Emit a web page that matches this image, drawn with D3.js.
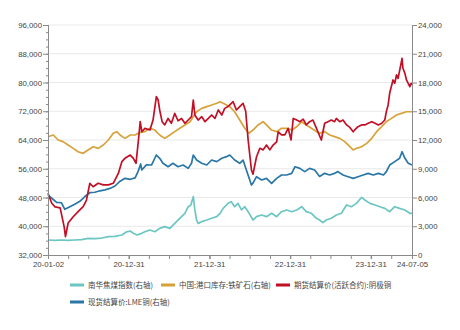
<!DOCTYPE html>
<html>
<head>
<meta charset="utf-8">
<script src="https://cdn.jsdelivr.net/npm/d3@7"></script>
<style>
  body { margin: 0; background: #fff; }
  svg { display: block; font-family: "Noto Sans CJK SC", "Noto Sans", sans-serif; }
  .tick text { fill: #444; font-size: 7.8px; }
  .grid line { stroke: #e9e9e9; }
</style>
</head>
<body>
<svg width="460" height="330"></svg>
<script>
// [date, value] pairs
const coalIndex = [ // 南华焦煤指数 (right axis)
  ["2020-01-02",1565],["2020-02-03",1530],["2020-03-03",1565],["2020-04-02",1530],["2020-05-02",1565],
  ["2020-06-02",1600],["2020-07-01",1740],["2020-08-01",1700],["2020-09-01",1770],["2020-10-01",1910],
  ["2020-10-31",1950],["2020-12-01",2090],["2020-12-23",2430],["2021-01-08",2500],["2021-01-22",2260],
  ["2021-02-07",2090],["2021-02-22",2200],["2021-03-15",2430],["2021-04-07",2610],["2021-04-29",2430],
  ["2021-05-21",2780],["2021-06-13",2960],["2021-07-06",2780],["2021-07-28",3300],["2021-08-20",3830],
  ["2021-09-12",4350],["2021-09-27",5040],["2021-10-09",5220],["2021-10-20",6090],["2021-10-27",4700],
  ["2021-11-04",3650],["2021-11-11",3300],["2021-11-27",3480],["2021-12-20",3650],["2022-01-11",3830],
  ["2022-02-03",4000],["2022-02-18",4350],["2022-03-04",4870],["2022-03-19",5220],["2022-03-26",5390],
  ["2022-04-10",5560],["2022-04-25",5040],["2022-05-10",5390],["2022-05-26",4700],["2022-06-10",5040],
  ["2022-06-25",4520],["2022-07-17",3650],["2022-08-02",4000],["2022-08-25",4170],["2022-09-16",4000],
  ["2022-10-09",4350],["2022-11-01",4000],["2022-11-23",4520],["2022-12-16",4700],["2023-01-08",4520],
  ["2023-01-31",4700],["2023-02-22",5040],["2023-03-15",4520],["2023-04-07",4350],["2023-04-30",3830],
  ["2023-05-14",3650],["2023-05-29",3370],["2023-06-13",3650],["2023-07-06",3830],["2023-07-29",4170],
  ["2023-08-21",4350],["2023-09-13",5220],["2023-10-05",5040],["2023-10-28",5390],["2023-11-20",6020],
  ["2023-12-05",5740],["2023-12-28",5390],["2024-01-20",5220],["2024-02-11",5040],["2024-03-04",4870],
  ["2024-03-26",4520],["2024-04-18",5040],["2024-05-10",4870],["2024-06-03",4700],["2024-06-25",4350],
  ["2024-07-05",4350]
];

const ironOreStock = [ // 中国:港口库存:铁矿石 (right axis)
  ["2020-01-02",12345],["2020-01-26",12520],["2020-02-17",12000],["2020-03-10",11830],["2020-04-02",11480],
  ["2020-04-25",11130],["2020-05-17",10780],["2020-06-09",10610],["2020-07-01",10960],["2020-07-24",11300],
  ["2020-08-16",11130],["2020-09-08",11480],["2020-10-01",12000],["2020-10-23",12700],["2020-11-08",12870],
  ["2020-11-23",12520],["2020-12-15",12170],["2021-01-08",12520],["2021-01-30",12520],["2021-02-22",12800],
  ["2021-03-15",12870],["2021-04-07",13220],["2021-04-29",13040],["2021-05-21",12520],["2021-06-13",12170],
  ["2021-07-06",12520],["2021-07-28",12870],["2021-08-20",13220],["2021-09-12",13570],["2021-10-05",13910],
  ["2021-10-20",14430],["2021-11-04",14950],["2021-11-27",15300],["2021-12-20",15480],["2022-01-11",15650],
  ["2022-02-03",15830],["2022-02-18",16000],["2022-03-11",15750],["2022-04-03",15480],["2022-04-25",14950],
  ["2022-05-18",14090],["2022-06-10",13220],["2022-06-28",12700],["2022-07-17",13040],["2022-08-09",13570],
  ["2022-09-01",13910],["2022-09-16",13570],["2022-10-09",13040],["2022-11-01",12870],["2022-11-23",13220],
  ["2022-12-16",13220],["2023-01-08",13040],["2023-01-31",13390],["2023-02-22",13910],["2023-03-15",13570],
  ["2023-04-07",13220],["2023-04-30",12870],["2023-05-14",12700],["2023-06-06",12870],["2023-06-29",12520],
  ["2023-07-21",12350],["2023-08-13",12170],["2023-09-05",11830],["2023-09-28",11300],["2023-10-13",10960],
  ["2023-10-28",11130],["2023-11-20",11300],["2023-12-13",11650],["2024-01-05",12170],["2024-01-27",12870],
  ["2024-02-19",13390],["2024-03-11",13910],["2024-04-03",14260],["2024-04-26",14610],["2024-05-18",14780],
  ["2024-06-10",14950],["2024-07-05",14950]
];

const copperFutures = [ // 期货结算价(活跃合约):阴极铜 (left axis)
  ["2020-01-02",49170],["2020-01-19",46400],["2020-02-03",45400],["2020-02-26",45100],["2020-03-15",39900],
  ["2020-03-21",37100],["2020-04-02",40900],["2020-04-25",42650],["2020-05-17",44050],["2020-06-09",45450],
  ["2020-06-24",47300],["2020-07-09",51950],["2020-07-24",51000],["2020-08-16",51950],["2020-09-08",51500],
  ["2020-10-01",51500],["2020-10-23",51950],["2020-11-15",54700],["2020-12-01",57970],["2020-12-15",58900],
  ["2021-01-08",59800],["2021-01-22",58900],["2021-02-03",57500],["2021-02-14",64000],["2021-02-22",69100],
  ["2021-03-01",66300],["2021-03-15",67250],["2021-04-07",66800],["2021-04-21",69560],["2021-05-06",76050],
  ["2021-05-14",75130],["2021-05-21",72350],["2021-06-01",69100],["2021-06-13",68200],["2021-06-28",70000],
  ["2021-07-13",68650],["2021-07-28",71400],["2021-08-12",69350],["2021-08-28",70000],["2021-09-12",68650],
  ["2021-09-27",69560],["2021-10-12",70500],["2021-10-20",75130],["2021-10-27",70960],["2021-11-11",69560],
  ["2021-11-27",70500],["2021-12-12",69100],["2021-12-27",70000],["2022-01-11",70960],["2022-01-26",70000],
  ["2022-02-10",72350],["2022-02-26",70960],["2022-03-11",72800],["2022-03-26",73300],["2022-04-10",74200],
  ["2022-04-18",74660],["2022-05-03",72350],["2022-05-18",73300],["2022-06-02",74200],["2022-06-14",72000],
  ["2022-06-25",64000],["2022-07-10",55650],["2022-07-17",54500],["2022-08-02",59350],["2022-08-17",61700],
  ["2022-09-01",61250],["2022-09-16",62600],["2022-10-01",61250],["2022-10-16",62600],["2022-11-01",63500],
  ["2022-11-08",66300],["2022-11-23",65400],["2022-12-08",65400],["2022-12-23",67250],["2023-01-05",64000],
  ["2023-01-15",70000],["2023-01-31",69560],["2023-02-14",69100],["2023-03-01",69800],["2023-03-15",68200],
  ["2023-03-30",69100],["2023-04-14",69560],["2023-04-30",67250],["2023-05-05",66500],["2023-05-22",64000],
  ["2023-06-06",68650],["2023-06-21",69100],["2023-07-06",69560],["2023-07-21",69100],["2023-07-29",70000],
  ["2023-08-13",69100],["2023-08-28",69560],["2023-09-13",68200],["2023-09-28",67500],["2023-10-13",66300],
  ["2023-10-20",66800],["2023-11-04",67700],["2023-11-20",68200],["2023-12-05",68200],["2023-12-20",68650],
  ["2024-01-05",69100],["2024-01-20",68650],["2024-02-04",68200],["2024-02-19",68650],["2024-03-04",69560],
  ["2024-03-11",71900],["2024-03-19",73750],["2024-03-26",77000],["2024-04-10",80700],["2024-04-18",79800],
  ["2024-04-26",82100],["2024-05-03",81150],["2024-05-15",84850],["2024-05-21",86700],["2024-05-25",83950],
  ["2024-06-03",82550],["2024-06-10",80700],["2024-06-25",78850],["2024-07-01",79750],["2024-07-05",79300]
];

const lmeCopper = [ // 现货结算价:LME铜 (right axis)
  ["2020-01-02",6250],["2020-01-19",5920],["2020-02-10",5500],["2020-03-03",5450],["2020-03-18",4770],
  ["2020-04-10",5040],["2020-05-02",5300],["2020-05-25",5600],["2020-06-17",6100],["2020-07-09",6500],
  ["2020-08-01",6550],["2020-08-24",6700],["2020-09-16",6800],["2020-10-08",6950],["2020-10-31",7200],
  ["2020-11-23",7700],["2020-12-15",8000],["2021-01-08",7900],["2021-01-30",8050],["2021-02-12",8700],
  ["2021-02-24",9500],["2021-03-01",8870],["2021-03-22",9400],["2021-04-14",9390],["2021-05-06",10435],
  ["2021-05-21",10090],["2021-06-05",9570],["2021-06-28",9210],["2021-07-20",9570],["2021-08-12",9210],
  ["2021-09-04",9390],["2021-09-27",9040],["2021-10-12",9570],["2021-10-20",10435],["2021-11-04",9910],
  ["2021-11-27",9570],["2021-12-20",9390],["2022-01-11",9910],["2022-02-03",9740],["2022-02-26",10090],
  ["2022-03-19",10260],["2022-04-03",10435],["2022-04-25",9910],["2022-05-18",9570],["2022-06-02",9910],
  ["2022-06-17",8870],["2022-07-10",7300],["2022-07-17",7500],["2022-08-02",8170],["2022-08-25",7830],
  ["2022-09-16",8000],["2022-10-09",7480],["2022-11-01",8000],["2022-11-23",8350],["2022-12-16",8350],
  ["2023-01-08",8520],["2023-01-23",9210],["2023-02-14",9040],["2023-03-08",8700],["2023-03-30",9040],
  ["2023-04-22",8870],["2023-05-14",8200],["2023-06-06",8520],["2023-06-29",8350],["2023-07-21",8520],
  ["2023-08-05",8700],["2023-08-28",8350],["2023-09-20",8170],["2023-10-13",8000],["2023-11-04",8170],
  ["2023-11-27",8350],["2023-12-20",8520],["2024-01-12",8350],["2024-02-04",8520],["2024-02-27",8350],
  ["2024-03-11",8700],["2024-03-26",9390],["2024-04-18",9740],["2024-05-10",10090],["2024-05-21",10780],
  ["2024-06-03",10090],["2024-06-18",9570],["2024-07-05",9390]
];

const xLabelDates = ["2020-01-02","2020-12-31","2021-12-31","2022-12-31","2023-12-31","2024-07-05"];
const leftTicks = [32000, 40000, 48000, 56000, 64000, 72000, 80000, 88000, 96000];
const rightTicks = [0, 3000, 6000, 9000, 12000, 15000, 18000, 21000, 24000];

const seriesNames = ["南华焦煤指数(右轴)", "中国:港口库存:铁矿石(右轴)", "期货结算价(活跃合约):阴极铜", "现货结算价:LME铜(右轴)"];
const seriesColors = ["#6cc6c4", "#d8a23a", "#c20f26", "#2a76a6"];
const seriesAxis = ["right", "right", "left", "right"];
const seriesData = [coalIndex, ironOreStock, copperFutures, lmeCopper];

const parse = d3.timeParse("%Y-%m-%d");
const margin = { top: 25, right: 48, bottom: 75, left: 48 };
const width = 460, height = 330;

const svg = d3.select("svg");

const x = d3.scaleTime()
    .domain([parse("2020-01-02"), parse("2024-07-05")])
    .range([margin.left, width - margin.right]);
const yL = d3.scaleLinear().domain([32000, 96000]).range([height - margin.bottom, margin.top]);
const yR = d3.scaleLinear().domain([0, 24000]).range([height - margin.bottom, margin.top]);

// grid
svg.append("g").attr("class", "grid")
  .selectAll("line").data(leftTicks.slice(1)).enter().append("line")
    .attr("x1", margin.left).attr("x2", width - margin.right)
    .attr("y1", d => yL(d)).attr("y2", d => yL(d));

// lines (draw order: coal, iron ore, lme, futures on top)
const order = [0, 1, 3, 2];
order.forEach(i => {
  const ys = seriesAxis[i] === "left" ? yL : yR;
  svg.append("path")
    .datum(seriesData[i])
    .attr("fill", "none")
    .attr("stroke", seriesColors[i])
    .attr("stroke-width", 1.7)
    .attr("stroke-linejoin", "round")
    .attr("d", d3.line().x(d => x(parse(d[0]))).y(d => ys(d[1])));
});

const fmt = d3.format(",");
const axisColor = "#8a8a8a";

// left axis with minor ticks
const gL = svg.append("g").attr("transform", `translate(${margin.left},0)`);
gL.call(d3.axisLeft(yL).tickValues(d3.range(32000, 96001, 2000)).tickSize(2).tickFormat(""));
gL.call(g => g.selectAll(".tick line").attr("stroke", axisColor));
const gL2 = svg.append("g").attr("transform", `translate(${margin.left},0)`);
gL2.call(d3.axisLeft(yL).tickValues(leftTicks).tickSize(5).tickPadding(1).tickFormat(fmt));

// right axis
const gR = svg.append("g").attr("transform", `translate(${width - margin.right},0)`);
gR.call(d3.axisRight(yR).tickValues(rightTicks).tickSize(5).tickPadding(1).tickFormat(fmt));

// bottom axis: quarterly minor ticks + labelled ticks
const start = parse("2020-01-02");
const quarters = d3.range(0, 18).map(i => d3.timeMonth.offset(start, i * 3));
const gB = svg.append("g").attr("transform", `translate(0,${height - margin.bottom})`);
gB.call(d3.axisBottom(x).tickValues(quarters).tickSize(4).tickFormat(""));
const gB2 = svg.append("g").attr("transform", `translate(0,${height - margin.bottom})`);
gB2.call(d3.axisBottom(x).tickValues(xLabelDates.map(parse)).tickSize(4).tickPadding(2)
  .tickFormat(d3.timeFormat("%y-%m-%d")));

svg.selectAll(".domain").attr("stroke", axisColor);
svg.selectAll(".tick line").attr("stroke", axisColor);

// legend
const legendPos = [[70, 285], [161, 285], [276, 285], [70, 302]];
const lg = svg.append("g").selectAll("g").data(seriesNames).enter().append("g")
    .attr("transform", (d, i) => `translate(${legendPos[i][0]},${legendPos[i][1]})`);
lg.append("rect").attr("x", 0).attr("y", -1.5).attr("width", 14).attr("height", 3)
    .attr("fill", (d, i) => seriesColors[i]);
lg.append("text").attr("x", 18).attr("y", 0).attr("dy", "0.35em")
    .attr("font-size", "7.5px").attr("fill", "#444").text(d => d);
</script>
</body>
</html>
